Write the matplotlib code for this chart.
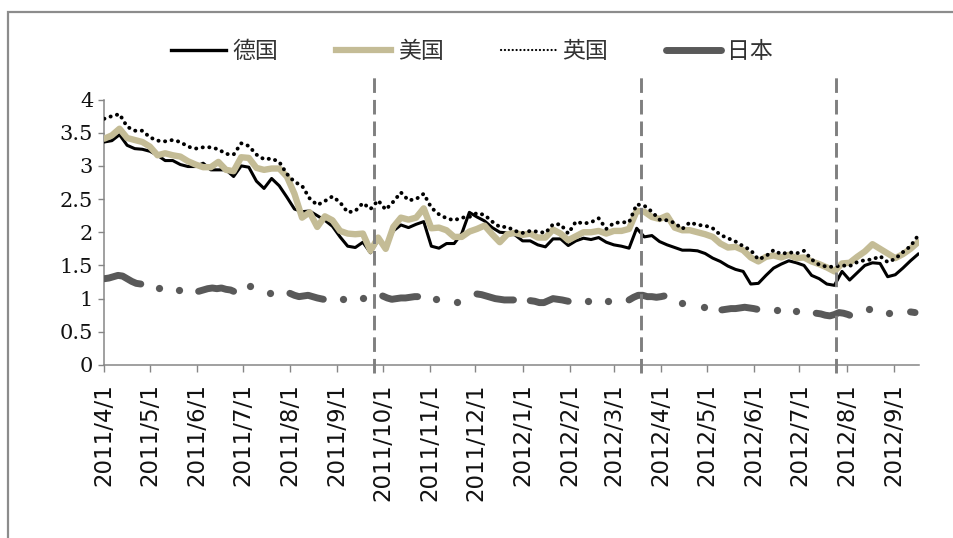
import matplotlib
matplotlib.use("Agg")
import matplotlib.pyplot as plt
import matplotlib.dates as mdates
from matplotlib.lines import Line2D
from matplotlib.patches import Rectangle
from matplotlib.ticker import FuncFormatter
from matplotlib.font_manager import FontProperties
import numpy as np
import pandas as pd

# 10-year government bond yields (%), sampled every 5 days
dates = pd.date_range("2011-04-01", periods=108, freq="5D")

germany = [3.36, 3.38, 3.47, 3.31, 3.26, 3.25, 3.22, 3.16, 3.08, 3.08,
           3.02, 2.99, 2.99, 3.04, 2.94, 2.94, 2.94, 2.84, 3.00, 2.98,
           2.77, 2.66, 2.81, 2.70, 2.53, 2.35, 2.31, 2.32, 2.25, 2.18,
           2.09, 1.93, 1.79, 1.77, 1.85, 1.69, 1.88, 1.76, 2.02, 2.11,
           2.07, 2.12, 2.16, 1.79, 1.76, 1.83, 1.83, 1.98, 2.30, 2.23,
           2.17, 2.07, 2.00, 1.99, 1.96, 1.87, 1.87, 1.81, 1.78, 1.90,
           1.90, 1.80, 1.87, 1.91, 1.89, 1.92, 1.85, 1.81, 1.79, 1.76,
           2.06, 1.93, 1.95, 1.86, 1.81, 1.77, 1.73, 1.73, 1.72, 1.68,
           1.61, 1.56, 1.49, 1.44, 1.41, 1.22, 1.23, 1.35, 1.46, 1.52,
           1.57, 1.54, 1.50, 1.35, 1.30, 1.22, 1.20, 1.41, 1.28, 1.39,
           1.50, 1.54, 1.53, 1.33, 1.36, 1.46, 1.57, 1.67]

usa = [3.41, 3.46, 3.56, 3.42, 3.39, 3.36, 3.29, 3.16, 3.19, 3.16,
       3.14, 3.07, 3.02, 2.98, 2.98, 3.06, 2.94, 2.92, 3.13, 3.12,
       2.97, 2.94, 2.96, 2.96, 2.84, 2.58, 2.22, 2.30, 2.08, 2.24,
       2.18, 2.02, 1.98, 1.97, 1.98, 1.72, 1.92, 1.75, 2.08, 2.22,
       2.19, 2.22, 2.36, 2.06, 2.07, 2.03, 1.93, 1.93, 2.01, 2.05,
       2.10, 1.97, 1.85, 1.97, 1.99, 1.96, 1.98, 1.92, 1.92, 2.04,
       1.98, 1.88, 1.94, 2.00, 2.00, 2.02, 1.98, 2.02, 2.02, 2.05,
       2.32, 2.31, 2.23, 2.20, 2.25, 2.07, 2.03, 2.03, 2.00, 1.97,
       1.93, 1.83, 1.77, 1.78, 1.73, 1.62, 1.56, 1.63, 1.65, 1.62,
       1.66, 1.61, 1.62, 1.56, 1.52, 1.47, 1.41, 1.53, 1.54, 1.63,
       1.71, 1.82, 1.75, 1.68, 1.61, 1.67, 1.75, 1.85]

uk = [3.71, 3.75, 3.78, 3.59, 3.53, 3.53, 3.43, 3.38, 3.37, 3.39,
      3.36, 3.29, 3.26, 3.28, 3.28, 3.25, 3.18, 3.17, 3.34, 3.30,
      3.17, 3.10, 3.11, 3.06, 2.88, 2.76, 2.70, 2.51, 2.41, 2.47,
      2.54, 2.45, 2.30, 2.32, 2.44, 2.35, 2.48, 2.34, 2.46, 2.60,
      2.48, 2.50, 2.58, 2.37, 2.27, 2.21, 2.18, 2.22, 2.23, 2.29,
      2.26, 2.16, 2.08, 2.08, 2.02, 1.99, 2.02, 2.01, 1.99, 2.12,
      2.12, 1.98, 2.16, 2.13, 2.15, 2.21, 2.05, 2.14, 2.15, 2.15,
      2.42, 2.40, 2.31, 2.19, 2.18, 2.14, 2.05, 2.15, 2.11, 2.10,
      2.06, 1.96, 1.91, 1.86, 1.79, 1.73, 1.59, 1.64, 1.73, 1.67,
      1.70, 1.68, 1.72, 1.59, 1.51, 1.48, 1.48, 1.50, 1.49, 1.55,
      1.58, 1.59, 1.64, 1.55, 1.60, 1.70, 1.79, 1.95]

# Japan: dense stretches plus isolated observations
jp_dates = ["2011-04-01", "2011-04-04", "2011-04-07", "2011-04-10", "2011-04-13",
            "2011-04-16", "2011-04-19", "2011-04-22", "2011-04-25",
            "2011-05-07", "2011-05-20",
            "2011-06-02", "2011-06-05", "2011-06-08", "2011-06-11", "2011-06-14",
            "2011-06-17", "2011-06-20", "2011-06-23", "2011-06-25",
            "2011-07-06", "2011-07-19",
            "2011-08-01", "2011-08-04", "2011-08-07", "2011-08-10", "2011-08-13",
            "2011-08-16", "2011-08-19", "2011-08-23",
            "2011-09-05", "2011-09-18",
            "2011-10-01", "2011-10-04", "2011-10-07", "2011-10-10", "2011-10-13",
            "2011-10-16", "2011-10-19", "2011-10-22", "2011-10-24",
            "2011-11-05", "2011-11-19",
            "2011-12-02", "2011-12-05", "2011-12-08", "2011-12-11", "2011-12-14",
            "2011-12-17", "2011-12-20", "2011-12-23", "2011-12-26",
            "2012-01-06", "2012-01-09", "2012-01-12", "2012-01-15", "2012-01-18",
            "2012-01-21", "2012-01-24", "2012-01-27", "2012-01-31",
            "2012-02-13", "2012-02-26",
            "2012-03-11", "2012-03-14", "2012-03-17", "2012-03-20", "2012-03-23",
            "2012-03-26", "2012-03-29", "2012-04-01", "2012-04-03",
            "2012-04-15", "2012-04-29",
            "2012-05-11", "2012-05-14", "2012-05-17", "2012-05-20", "2012-05-23",
            "2012-05-26", "2012-05-29", "2012-06-01", "2012-06-03",
            "2012-06-16", "2012-06-29",
            "2012-07-12", "2012-07-15", "2012-07-18", "2012-07-21", "2012-07-24",
            "2012-07-27", "2012-07-30", "2012-08-02", "2012-08-03",
            "2012-08-16", "2012-08-29",
            "2012-09-12", "2012-09-15"]
japan = [1.30, 1.31, 1.33, 1.35, 1.34, 1.30, 1.26, 1.23, 1.22,
         1.155, 1.13,
         1.11, 1.13, 1.15, 1.16, 1.15, 1.16, 1.14, 1.13, 1.11,
         1.19, 1.08,
         1.08, 1.05, 1.03, 1.04, 1.05, 1.03, 1.01, 0.99,
         1.00, 1.01,
         1.04, 1.01, 0.99, 1.00, 1.01, 1.01, 1.02, 1.03, 1.03,
         0.99, 0.95,
         1.07, 1.06, 1.04, 1.02, 1.00, 0.99, 0.98, 0.98, 0.98,
         0.97, 0.96, 0.94, 0.94, 0.97, 1.00, 0.99, 0.98, 0.96,
         0.97, 0.97,
         0.98, 1.02, 1.05, 1.05, 1.03, 1.03, 1.02, 1.03, 1.04,
         0.93, 0.88,
         0.83, 0.84, 0.85, 0.85, 0.86, 0.87, 0.86, 0.85, 0.84,
         0.83, 0.81,
         0.78, 0.77, 0.75, 0.74, 0.76, 0.79, 0.78, 0.76, 0.75,
         0.84, 0.79,
         0.80, 0.79]

event_dates = ["2011-09-25", "2012-03-19", "2012-07-25"]
labels = ["德国", "美国", "英国", "日本"]
y_ticks = [0, 0.5, 1, 1.5, 2, 2.5, 3, 3.5, 4]

BLACK = "#000000"
TAN = "#c4bc96"
JP_GRAY = "#595959"
AXIS_GRAY = "#868686"

W, H = 954, 538
fig = plt.figure(figsize=(W / 100, H / 100), dpi=100)
fig.patch.set_facecolor("white")

# outer chart frame (left and top edges visible)
frame = Rectangle((8 / W, -0.1), 1.5, 1.1 - 12 / H, transform=fig.transFigure,
                  fill=False, edgecolor="#8c8c8c", linewidth=1.6)
fig.add_artist(frame)

left, right = 104.3 / W, 919 / W
bottom, top = 1 - 365 / H, 1 - 99.5 / H
ax = fig.add_axes([left, bottom, right - left, top - bottom])

ax.plot(dates, germany, color=BLACK, lw=2.2, zorder=3, solid_joinstyle="round")
ax.plot(dates, usa, color=TAN, lw=4.6, zorder=4, solid_joinstyle="round",
        solid_capstyle="round")
ax.plot(dates, uk, color=BLACK, lw=2.8, linestyle=(0, (0.05, 1.65)),
        dash_capstyle="round", zorder=5)

# Japan: connect dense stretches, single observations as dots
jp_idx = pd.to_datetime(jp_dates)
jp_vals = np.array(japan)
gaps = np.diff(jp_idx.values).astype("timedelta64[D]").astype(int)
groups = np.split(np.arange(len(jp_vals)), np.where(gaps > 5)[0] + 1)
for g in groups:
    if len(g) > 1:
        ax.plot(jp_idx[g], jp_vals[g], color=JP_GRAY, lw=5.0,
                solid_capstyle="round", solid_joinstyle="round", zorder=6)
    else:
        ax.plot(jp_idx[g], jp_vals[g], "o", color=JP_GRAY, ms=5.2,
                mec="none", zorder=6)

# event markers
for d in event_dates:
    ax.axvline(pd.Timestamp(d), ymin=-0.03, ymax=1.092, color="#7f7f7f",
               lw=2.1, linestyle=(0, (5, 2.4)), clip_on=False, zorder=7)

ax.set_xlim(pd.Timestamp("2011-04-01"), pd.Timestamp("2011-04-01") + pd.Timedelta(days=535.6))
ax.set_ylim(0, 4)
ax.set_yticks(y_ticks)
ax.yaxis.set_major_formatter(FuncFormatter(lambda v, p: f"{v:g}"))

ax.xaxis.set_major_locator(mdates.MonthLocator())
ax.xaxis.set_major_formatter(FuncFormatter(
    lambda x, p: (lambda d: f"{d.year}/{d.month}/{d.day}")(mdates.num2date(x))))

for s in ["top", "right"]:
    ax.spines[s].set_visible(False)
for s in ["left", "bottom"]:
    ax.spines[s].set_color(AXIS_GRAY)
    ax.spines[s].set_linewidth(1.1)

ax.tick_params(axis="x", direction="out", length=5, width=1.0, color=AXIS_GRAY,
               pad=8, labelrotation=90, labelsize=16.5, labelcolor="#111111")
ax.tick_params(axis="y", direction="out", length=4.5, width=1.0, color=AXIS_GRAY,
               pad=3.5, labelsize=15, labelcolor="#111111")
for lab in ax.get_xticklabels():
    lab.set_family("DejaVu Sans")
for lab in ax.get_yticklabels():
    lab.set_family("DejaVu Serif")

handles = [
    Line2D([], [], color=BLACK, lw=2.4),
    Line2D([], [], color=TAN, lw=4.5),
    Line2D([], [], color=BLACK, lw=1.6, linestyle=(0, (0.05, 1.7)),
           dash_capstyle="round"),
    Line2D([], [], color=JP_GRAY, lw=5.0, solid_capstyle="round"),
]
leg = fig.legend(handles, labels, loc="center", bbox_to_anchor=(472 / W, 1 - 52 / H),
                 ncol=4, frameon=False,
                 prop=FontProperties(family=["Noto Sans CJK SC", "DejaVu Sans"], size=16.5),
                 handlelength=2.4, handletextpad=0.3, columnspacing=2.5)
for t in leg.get_texts():
    t.set_color("#333333")

fig.savefig("out.png", dpi=100, facecolor="white")
